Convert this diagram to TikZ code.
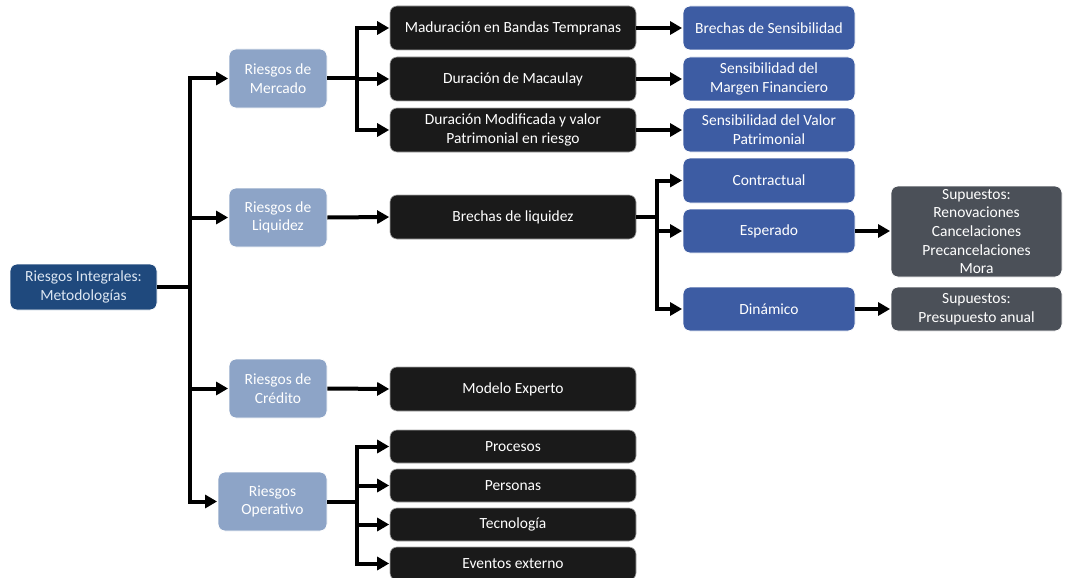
\documentclass[tikz,border=0pt]{standalone}
\usepackage{fontspec}
\setmainfont{Carlito}
\usetikzlibrary{arrows.meta}
\definecolor{rootc}{HTML}{1F497D}
\definecolor{roott}{HTML}{DCE6F2}
\definecolor{lvlc}{HTML}{8DA4C7}
\definecolor{blkc}{HTML}{1A1A1A}
\definecolor{bluc}{HTML}{3D5CA3}
\definecolor{gryc}{HTML}{4B5058}
\tikzset{
  box/.style={rounded corners=7pt, align=center, inner sep=1pt, text=white,
    font=\fontsize{15.5}{18.7}\selectfont, draw=white, line width=0.8pt},
  rootbox/.style={box, fill=rootc, text=roott, minimum width=147pt, minimum height=46pt},
  lvlbox/.style={box, fill=lvlc, minimum height=59pt},
  blkbox/.style={box, fill=blkc, draw=gray!70, line width=0.6pt, minimum width=246pt},
  blubox/.style={box, fill=bluc, minimum width=172pt},
  grybox/.style={box, fill=gryc, minimum width=171pt},
  conn/.style={line width=4pt, line join=miter, draw=black},
  arr/.style={conn, -{Triangle[length=12pt,width=13pt]}, shorten >=0.5pt},
}
\begin{document}
\begin{tikzpicture}[x=1pt,y=-1pt]
\useasboundingbox (0,0) rectangle (1069,578);
% root
\node[rootbox] (root) at (83.5,287) {Riesgos Integrales:\\Metodologías};
% level 1
\node[lvlbox, minimum width=98pt] (mer) at (278,78.5) {Riesgos de\\Mercado};
\node[lvlbox, minimum width=98pt] (liq) at (278,217.5) {Riesgos de\\Liquidez};
\node[lvlbox, minimum width=98pt] (cre) at (278,388.5) {Riesgos de\\Crédito};
\node[lvlbox, minimum width=109pt] (ope) at (272.5,501.5) {Riesgos\\Operativo};
% black boxes
\node[blkbox, minimum height=44pt] (m1) at (513,28) {Maduración en Bandas Tempranas};
\node[blkbox, minimum height=44pt] (m2) at (513,79) {Duración de Macaulay};
\node[blkbox, minimum height=44pt] (m3) at (513,130) {Duración Modificada y valor\\Patrimonial en riesgo};
\node[blkbox, minimum height=44pt] (bl) at (513,217) {Brechas de liquidez};
\node[blkbox, minimum height=44pt] (me) at (513,389) {Modelo Experto};
\node[blkbox, minimum height=33pt] (o1) at (513,446.5) {Procesos};
\node[blkbox, minimum height=33pt] (o2) at (513,485.5) {Personas};
\node[blkbox, minimum height=33pt] (o3) at (513,524.5) {Tecnología};
\node[blkbox, minimum height=33pt] (o4) at (513,563.5) {Eventos externo};
% blue boxes
\node[blubox, minimum height=44pt] (b1) at (769,28) {Brechas de Sensibilidad};
\node[blubox, minimum height=44pt] (b2) at (769,79) {Sensibilidad del\\Margen Financiero};
\node[blubox, minimum height=44pt] (b3) at (769,130) {Sensibilidad del Valor\\Patrimonial};
\node[blubox, minimum height=45pt] (c1) at (769,180.5) {Contractual};
\node[blubox, minimum height=44pt] (c2) at (769,231) {Esperado};
\node[blubox, minimum height=44pt] (c3) at (769,309) {Dinámico};
% grey boxes
\node[grybox, minimum height=91pt] (g1) at (976.5,231.5) {Supuestos:\\Renovaciones\\Cancelaciones\\Precancelaciones\\Mora};
\node[grybox, minimum height=44pt] (g2) at (976.5,309) {Supuestos:\\Presupuesto anual};
% trunk coordinates
\coordinate (tr) at (190,0);
\coordinate (mb) at (357,0);
\coordinate (lb) at (657,0);
\coordinate (ob) at (357,0);
% root connectors
\draw[conn] (root.east) -- (tr |- root.east);
\draw[arr] (tr |- root.east) |- (mer.west);
\draw[arr] (tr |- root.east) |- (liq.west);
\draw[arr] (tr |- root.east) |- (cre.west);
\draw[arr] (tr |- root.east) |- (ope.west);
% mercado
\draw[conn] (mer.east) -- (mb |- mer.east);
\draw[arr] (mb |- mer.east) |- (m1.west);
\draw[arr] (mb |- mer.east) |- (m2.west);
\draw[arr] (mb |- mer.east) |- (m3.west);
\draw[arr] (m1.east) -- (b1.west);
\draw[arr] (m2.east) -- (b2.west);
\draw[arr] (m3.east) -- (b3.west);
% liquidez
\draw[arr] (liq.east) -- (bl.west);
\draw[conn] (bl.east) -- (lb |- bl.east);
\draw[arr] (lb |- bl.east) |- (c1.west);
\draw[arr] (lb |- bl.east) |- (c2.west);
\draw[arr] (lb |- bl.east) |- (c3.west);
\draw[arr] (c2.east) -- (g1.west |- c2.east);
\draw[arr] (c3.east) -- (g2.west);
% credito
\draw[arr] (cre.east) -- (me.west);
% operativo
\draw[conn] (ope.east) -- (ob |- ope.east);
\draw[arr] (ob |- ope.east) |- (o1.west);
\draw[arr] (ob |- ope.east) |- (o2.west);
\draw[arr] (ob |- ope.east) |- (o3.west);
\draw[arr] (ob |- ope.east) |- (o4.west);
\end{tikzpicture}
\end{document}
